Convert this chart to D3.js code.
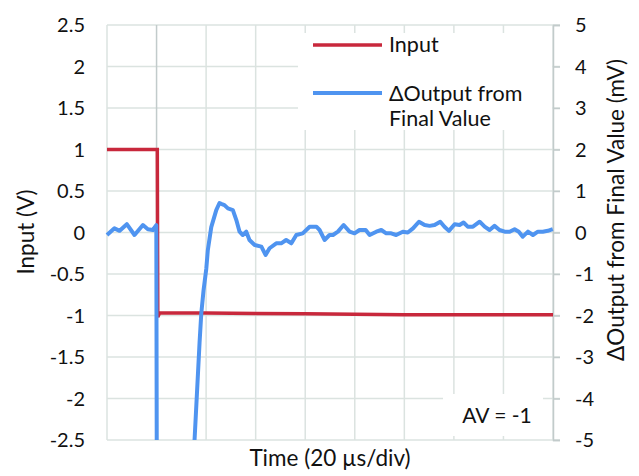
<!DOCTYPE html>
<html><head><meta charset="utf-8">
<script src="https://cdn.jsdelivr.net/npm/d3@7"></script>
<style>body{margin:0;background:#fff}svg{display:block}text{font-family:Lato,"Open Sans",sans-serif;fill:#111}</style>
</head><body><svg id="c" width="639" height="476"></svg>
<script>
// ---- data ----
const inputT = [-20, -10, 0, 0.3, 0.5, 1.2, 20, 60, 100, 160];
const inputV = [1.0, 1.0, 1.0, 1.0, -1.02, -0.97, -0.97, -0.98, -0.99, -0.99];
const outT = [-20, -17, -14.9, -12, -8.9, -5.5, -3.5, -1.5, -0.1, 0.1, 0.3, 14.5, 14.9, 15.3, 17.35, 18.04, 18.97, 20.06, 20.7, 22.08, 24.1, 25.4, 26.1, 27.4, 28.8, 30.8, 32.2, 33.5, 34.8, 36.2, 37.5, 39.6, 42.3, 44.0, 45.6, 48.3, 50.3, 52.3, 54.4, 56.4, 59.0, 61.8, 64.5, 65.8, 67.8, 69.8, 71.2, 73.2, 75.5, 77.9, 79.9, 81.9, 84.4, 86.0, 88.7, 90.7, 92.7, 94.7, 96.7, 99.4, 101.4, 103.5, 105.9, 108.2, 110.2, 112.2, 114.5, 116.2, 118.0, 120.3, 122.3, 123.9, 125.6, 127.7, 130.4, 132.4, 134.4, 136.4, 138.4, 140.5, 142.5, 144.5, 146.2, 147.8, 149.9, 151.9, 153.9, 155.9, 157.9, 159.9];
const outMV = [-0.06, 0.10, 0.04, 0.20, -0.06, 0.18, 0.08, 0.06, 0.18, -6, -12, -12, -5.3, -5.04, -2.66, -1.96, -1.39, -0.88, -0.42, 0.13, 0.54, 0.71, 0.69, 0.66, 0.58, 0.54, 0.30, 0.02, -0.06, 0.02, -0.18, -0.30, -0.34, -0.54, -0.38, -0.26, -0.26, -0.18, -0.26, -0.06, -0.02, 0.14, 0.14, 0.06, -0.18, -0.06, -0.06, 0.02, 0.18, 0.02, -0.02, 0.06, 0.06, -0.06, 0.02, 0.06, -0.02, -0.02, -0.06, 0.02, 0.0, 0.10, 0.26, 0.18, 0.16, 0.18, 0.26, 0.14, 0.04, 0.20, 0.18, 0.24, 0.14, 0.14, 0.26, 0.14, 0.06, 0.16, 0.06, 0.02, 0.02, 0.08, 0.02, -0.10, 0.02, -0.06, 0.02, 0.02, 0.04, 0.08];
const leftTicks = [2.5, 2, 1.5, 1, 0.5, 0, -0.5, -1, -1.5, -2, -2.5];
const rightTicks = [5, 4, 3, 2, 1, 0, -1, -2, -3, -4, -5];
const timeTicks = [-20, 0, 20, 40, 60, 80, 100, 120, 140, 160];
const seriesNames = ["Input", ["ΔOutput from", "Final Value"]];
const xTitle = "Time (20 µs/div)", yLeftTitle = "Input (V)", yRightTitle = "ΔOutput from Final Value (mV)", note = "AV = -1";

// ---- layout ----
const L = 107, R = 553, T = 25, B = 440;
const red = "#c8283c", blue = "#4f94f0", grid = "#dbe3e0", axisC = "#c2cbcb";
const svg = d3.select("#c");
const x = d3.scaleLinear().domain([-20, 160]).range([L, R]);
const yL = d3.scaleLinear().domain([-2.5, 2.5]).range([B, T]);
const yR = d3.scaleLinear().domain([-5, 5]).range([B, T]);

// grid
svg.append("g").selectAll("line").data(leftTicks).join("line")
  .attr("x1", L).attr("x2", R + 7).attr("y1", d => yL(d)).attr("y2", d => yL(d))
  .attr("stroke", grid).attr("stroke-width", 1.5);
svg.append("g").selectAll("line").data(timeTicks).join("line")
  .attr("x1", d => x(d)).attr("x2", d => x(d)).attr("y1", T).attr("y2", B)
  .attr("stroke", d => d === 0 ? axisC : grid).attr("stroke-width", 1.5);
// right axis line + ticks
const ra = svg.append("g").attr("transform", `translate(${R},0)`)
  .call(d3.axisRight(yR).tickValues(rightTicks).tickSize(7).tickFormat(""));
ra.selectAll("path").attr("stroke", axisC).attr("stroke-width", 1.5);
ra.selectAll(".tick line").attr("stroke", axisC).attr("stroke-width", 1.5);

// white boxes (legend and note) over grid
svg.append("rect").attr("x", 298).attr("y", 33).attr("width", R - 298 - 1).attr("height", 97).attr("fill", "#fff");
svg.append("rect").attr("x", 443).attr("y", 394).attr("width", 100).attr("height", 42).attr("fill", "#fff");

// clip
svg.append("clipPath").attr("id", "pc").append("rect").attr("x", L - 2).attr("y", T).attr("width", R - L + 4).attr("height", B - T);

const lineIn = d3.line().x((d, i) => x(inputT[i])).y(d => yL(d));
const lineOut = d3.line().x((d, i) => x(outT[i])).y(d => yR(d));
const g = svg.append("g").attr("clip-path", "url(#pc)");
g.append("path").attr("d", lineIn(inputV)).attr("fill", "none").attr("stroke", red).attr("stroke-width", 3.5);
g.append("path").attr("d", lineOut(outMV)).attr("fill", "none").attr("stroke", blue).attr("stroke-width", 4).attr("stroke-linejoin", "round");

// tick labels
svg.append("g").selectAll("text").data(leftTicks).join("text")
  .attr("x", 85).attr("y", d => yL(d)).attr("dy", "0.36em").attr("text-anchor", "end")
  .attr("font-size", 20).text(d => String(d));
svg.append("g").selectAll("text").data(rightTicks).join("text")
  .attr("x", 575).attr("y", d => yR(d)).attr("dy", "0.36em").attr("text-anchor", "start")
  .attr("font-size", 20).text(d => String(d));

// titles
svg.append("text").attr("x", 330).attr("y", 466).attr("text-anchor", "middle").attr("font-size", 22.5).text(xTitle);
svg.append("text").attr("transform", "translate(34,232) rotate(-90)").attr("text-anchor", "middle").attr("font-size", 22.5).text(yLeftTitle);
svg.append("text").attr("transform", "translate(624,210) rotate(-90)").attr("text-anchor", "middle").attr("font-size", 22.5).text(yRightTitle);

// legend
svg.append("line").attr("x1", 313).attr("x2", 382).attr("y1", 45).attr("y2", 45).attr("stroke", red).attr("stroke-width", 3.5);
svg.append("text").attr("x", 389).attr("y", 52).attr("font-size", 21.5).text(seriesNames[0]);
svg.append("line").attr("x1", 313).attr("x2", 382).attr("y1", 93).attr("y2", 93).attr("stroke", blue).attr("stroke-width", 4);
svg.append("text").attr("x", 389).attr("y", 101).attr("font-size", 21.5).text(seriesNames[1][0]);
svg.append("text").attr("x", 389).attr("y", 126).attr("font-size", 21.5).text(seriesNames[1][1]);

// note
svg.append("text").attr("x", 497).attr("y", 423).attr("text-anchor", "middle").attr("font-size", 21).text(note);
</script></body></html>
